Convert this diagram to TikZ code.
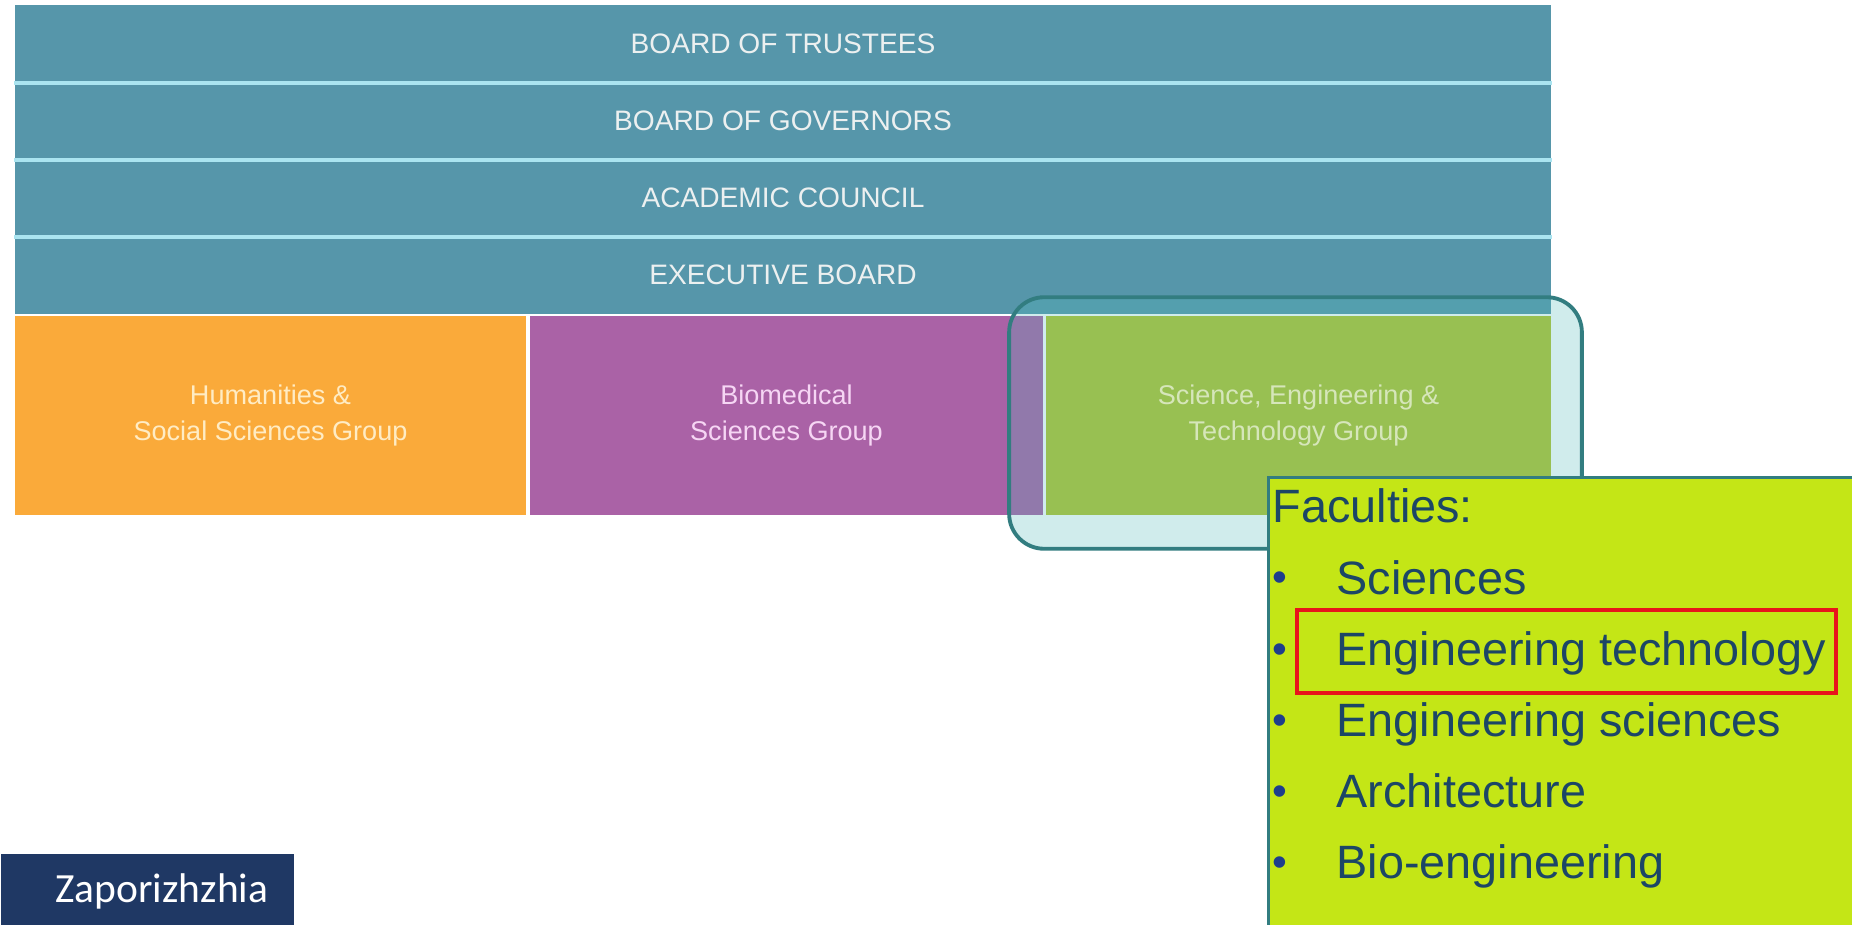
\documentclass[tikz,border=0pt]{standalone}
\usepackage{fontspec}
\setmainfont{Liberation Sans}
\newfontfamily\zapfont{Carlito}

\definecolor{bandteal}{RGB}{86,150,170}
\definecolor{sepcyan}{RGB}{170,228,240}
\definecolor{grouporange}{RGB}{250,170,58}
\definecolor{grouppurple}{RGB}{170,98,166}
\definecolor{groupgreen}{RGB}{152,192,82}
\definecolor{hlteal}{RGB}{50,125,128}
\definecolor{hlfill}{RGB}{81,185,185}
\definecolor{facultylime}{RGB}{196,230,22}
\definecolor{facultytext}{RGB}{28,70,102}
\definecolor{bulletblue}{RGB}{30,62,140}
\definecolor{zapnavy}{RGB}{31,56,100}

\begin{document}
\begin{tikzpicture}[
		x=0.01cm, y=-0.01cm,
		bandnode/.style={
		% The shape:
		rectangle,
		% The size:
		minimum width=15.36cm,
		minimum height=0.77cm,
		inner sep=0pt,
		% The filling:
		fill=bandteal,
		% Font
		text={rgb,255:red,236;green,240;blue,240},
		font=\fontsize{8}{9.6}\selectfont
		},
		groupnode/.style={
		% The shape:
		rectangle,
		% The size:
		minimum height=1.99cm,
		inner sep=0pt,
		% Font
		align=center,
		font=\fontsize{7.7}{10.2}\selectfont
		},
		sepline/.style={sepcyan, line width=1.1pt},
		itemnode/.style={
		anchor=base west,
		inner sep=0pt,
		text=facultytext,
		font=\fontsize{13.3}{16}\selectfont
		},
		bulletnode/.style={
		anchor=base west,
		inner sep=0pt,
		text=bulletblue,
		font=\fontsize{12}{16}\selectfont
		}
	]
	\useasboundingbox (0,0) rectangle (1852,925);

	% the boards
	\node (TRUST)[bandnode] at (783,44)  {BOARD OF TRUSTEES};
	\node (GOV)[bandnode]   at (783,121) {BOARD OF GOVERNORS};
	\node (ACAD)[bandnode]  at (783,198) {ACADEMIC COUNCIL};
	\node (EXEC)[bandnode]  at (783,275) {EXECUTIVE BOARD};

	\draw [sepline] (TRUST.south west) -- (TRUST.south east);
	\draw [sepline] (GOV.south west) -- (GOV.south east);
	\draw [sepline] (ACAD.south west) -- (ACAD.south east);

	% the groups
	\node (HUM)[groupnode, minimum width=5.11cm, fill=grouporange,
		text={rgb,255:red,255;green,236;blue,196}] at (270.5,415.5)
		{Humanities \&\\Social Sciences Group};
	\node (BIO)[groupnode, minimum width=5.13cm, fill=grouppurple,
		text={rgb,255:red,246;green,214;blue,244}] at (786.5,415.5)
		{Biomedical\\Sciences Group};

	% highlight round the third group
	\node (HL)[rectangle, rounded corners=0.35cm, minimum width=5.71cm,
		minimum height=2.5cm, fill=hlfill, fill opacity=0.27] at (1295.5,423) {};

	\node (SET)[groupnode, minimum width=5.05cm, fill=groupgreen,
		text={rgb,255:red,214;green,230;blue,186}] at (1298.5,415.5)
		{Science, Engineering \&\\Technology Group};

	\draw [hlteal, line width=1.1pt, rounded corners=0.35cm]
		(HL.north west) rectangle (HL.south east);

	% the faculties
	\node (FAC)[rectangle, anchor=north west, minimum width=6cm, minimum height=4.6cm,
		fill=facultylime, draw=hlteal, line width=0.8pt] at (1267,476) {};

	\node (FACT)[itemnode] at (1272,523) {Faculties:};
	\node (B1)[bulletnode] at (1272,592) {•};
	\node (B2)[bulletnode] at (1272,663) {•};
	\node (B3)[bulletnode] at (1272,734) {•};
	\node (B4)[bulletnode] at (1272,805) {•};
	\node (B5)[bulletnode] at (1272,876) {•};
	\node (I1)[itemnode] at (1336,594) {Sciences};
	\node (I2)[itemnode] at (1336,665) {Engineering technology};
	\node (I3)[itemnode] at (1336,736) {Engineering sciences};
	\node (I4)[itemnode] at (1336,807) {Architecture};
	\node (I5)[itemnode] at (1336,878) {Bio-engineering};

	\node (MARK)[rectangle, minimum width=5.39cm, minimum height=0.83cm,
		draw={rgb,255:red,232;green,20;blue,27}, line width=1.3pt] at (1566.5,651.5) {};

	% city label
	\node (ZAP)[rectangle, anchor=north west, minimum width=2.93cm, minimum height=0.75cm,
		inner sep=0pt, fill=zapnavy] at (0,853) {};
	\node (ZAPT)[anchor=base west, inner sep=0pt, text=white,
		font=\zapfont\fontsize{11.8}{14}\selectfont] at (55,902) {Zaporizhzhia};
\end{tikzpicture}
\end{document}
